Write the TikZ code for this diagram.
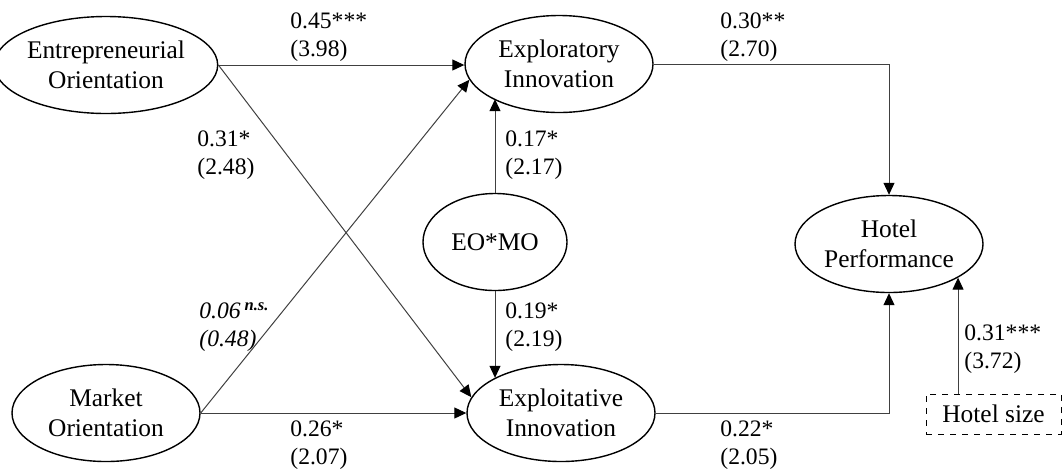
\documentclass[tikz,border=0pt]{standalone}
\usepackage{fontspec}
\setmainfont{Liberation Serif}
\usetikzlibrary{shapes.geometric,arrows.meta,calc}
\begin{document}
\begin{tikzpicture}[x=0.5pt,y=-0.5pt,
  latent/.style={draw,ellipse,line width=0.7pt,inner sep=0pt,minimum width=94pt,minimum height=48.5pt,align=center,font=\fontsize{12.7}{15}\selectfont},
  coef/.style={anchor=west,inner sep=0pt,align=left,font=\fontsize{11.8}{14}\selectfont},
  path/.style={draw=black!75,line width=0.5pt,-{Triangle[length=6pt,width=5.5pt,fill=black,color=black]}},
  ctrl/.style={draw,dashed,line width=0.5pt,inner sep=0pt,minimum width=67.5pt,minimum height=20pt,font=\fontsize{12.7}{15}\selectfont}]
\useasboundingbox (0,0) rectangle (1064,472);
\node[latent] (EO) at (106,65) {Entrepreneurial\\Orientation};
\node[latent] (MO) at (106,413) {Market\\Orientation};
\node[latent] (XE) at (559,64) {Exploratory\\Innovation};
\node[latent,minimum width=72pt] (EM) at (495,242) {EO*MO};
\node[latent] (XI) at (561,413) {Exploitative\\Innovation};
\node[latent] (HP) at (889,244) {Hotel\\Performance};
\node[ctrl] (HS) at (993.5,414) {Hotel size};
\draw[path] (EO.east) -- (EO.east -| XE.west);
\draw[path] (MO.east) -- (MO.east -| XI.west);
\draw[path] (EO.east) -- (XI.170);
\draw[path] (MO.east) -- (XE.190);
\draw[path] (XE.east) -| (HP.north);
\draw[path] (XI.east) -| (HP.south);
\draw[path] (EM.north) -- (EM.north |- XE.208);
\draw[path] (EM.south) -- (EM.south |- XI.152);
\draw[path] (HP.-26 |- HS.north) -- (HP.-26);
\node[coef] (l1) at (290,37) {0.45***\\(3.98)};
\node[coef] (l2) at (197,155) {0.31*\\(2.48)};
\node[coef] (l3) at (199,327) {\textit{0.06}\,\textsuperscript{\textbf{\textit{n.s.}}}\\\textit{(0.48)}};
\node[coef] (l4) at (290,445) {0.26*\\(2.07)};
\node[coef] (l5) at (505,155) {0.17*\\(2.17)};
\node[coef] (l6) at (505,327) {0.19*\\(2.19)};
\node[coef] (l7) at (720,37) {0.30**\\(2.70)};
\node[coef] (l8) at (720,445) {0.22*\\(2.05)};
\node[coef] (l9) at (964,349) {0.31***\\(3.72)};
\end{tikzpicture}
\end{document}
